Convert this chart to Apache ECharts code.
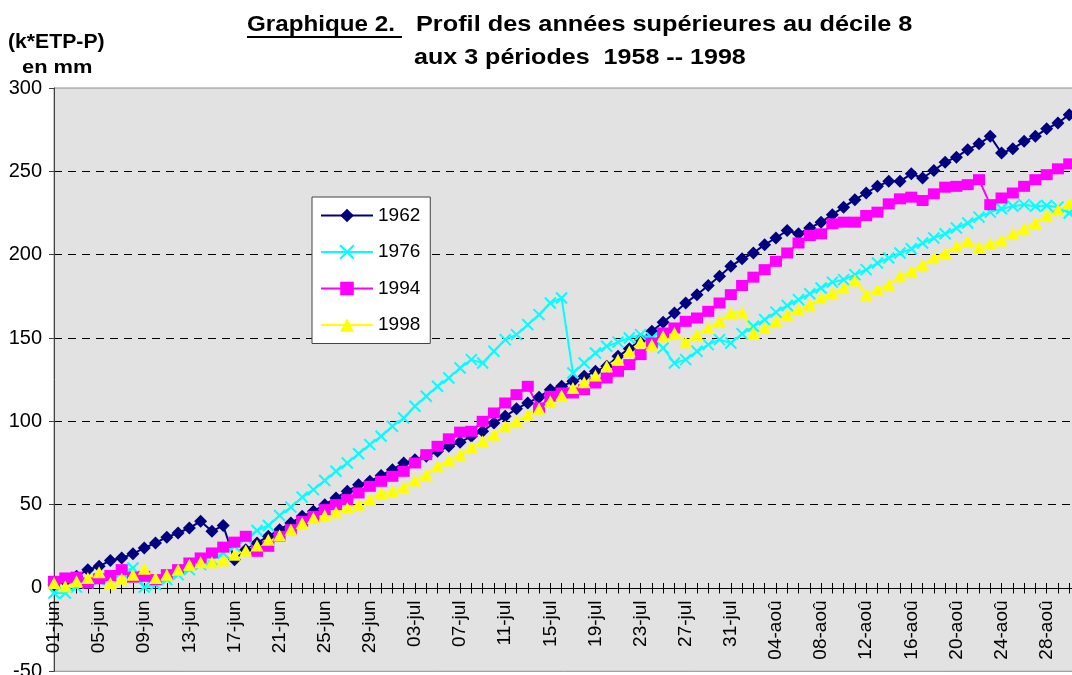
<!DOCTYPE html>
<html>
<head>
<meta charset="utf-8">
<script src="https://cdn.jsdelivr.net/npm/echarts@6/dist/echarts.min.js"></script>
<style>
html,body{margin:0;padding:0;background:#fff;}
#chart{width:1072px;height:675px;}
</style>
</head>
<body>
<div id="chart"></div>
<script>
// ---- data ----
const monthNames = ['jun', 'jul', 'aoû'];
const monthDays = [30, 31, 31];
const categories = [];
monthNames.forEach(function (m, k) {
  for (let d = 1; d <= monthDays[k]; d++) categories.push((d < 10 ? '0' : '') + d + '-' + m);
});
const yTicks = [-50, 0, 50, 100, 150, 200, 250, 300];
const seriesNames = ['1962', '1976', '1994', '1998'];

const y1962 = [2, 4, 7, 11, 13, 16.5, 18, 20.5, 24, 27, 30.5, 33, 36, 40, 34, 37.5, 17, 23, 27, 31,
  35, 39, 43, 46, 50, 54, 58, 62, 64, 67.5, 71, 75, 77, 79, 82, 85, 87.5, 91, 94, 99,
  103, 107.5, 111, 114.5, 119, 121, 124, 127, 130, 133, 139, 143.5, 149, 154, 159.5, 165, 171, 176, 181.5, 187,
  193, 197.5, 201, 206, 210, 214.5, 212.5, 216, 219.5, 224, 228.5, 233, 237, 241, 244, 244, 248.5, 246, 250.5, 255.5,
  258.5, 263, 266.5, 271, 261, 263.5, 268, 271, 275.5, 279, 284, 287];

const y1976 = [-3, -3, 0.5, 3, 5, 7, 9.5, 12, 0.5, 2, 5, 8, 11, 14, 17, 21, 25, 30, 34.5, 37.5,
  43.5, 48.5, 54.5, 59, 64.5, 70, 75, 80.5, 86, 91, 97, 102, 109, 115, 121, 126, 132, 137, 135, 142,
  149, 152, 158, 164, 171, 174, 129, 135, 141, 145, 147.5, 150, 152, 150, 144, 135, 137, 142, 146, 149,
  147, 152.5, 157, 161, 165.5, 169.5, 173, 176.5, 180, 183.5, 185, 188, 191, 195, 198, 201, 203.5, 207, 210, 212.5,
  216, 219, 222.5, 225.5, 227.5, 229, 230, 229, 229.5, 228.5, 225, 224];

const y1994 = [4, 6, 6.5, 3, 5.5, 7.5, 11, 6.5, 7, 5, 8, 11, 15, 18, 21, 24.5, 27.5, 31, 22, 25,
  31, 35, 40, 43, 47, 50, 53, 57, 61, 64, 67, 70, 75, 80, 85, 89.5, 93.5, 94, 100, 105,
  111, 116, 121, 108, 115, 117, 117, 119, 123, 126, 130, 134, 140, 147, 153, 156, 160, 162, 166, 171,
  176, 181.5, 186.5, 191, 196, 201, 207, 211.5, 212.5, 218.5, 219.5, 219.5, 223.5, 225.5, 230.5, 233.5, 234.5, 232.5, 236.5, 240.5,
  241, 242, 245, 230, 234, 237, 241, 245, 248, 251.5, 254.5, 257];

const y1998 = [3, 1, 4, 6, 9.5, 3, 5.5, 8, 11.5, 6, 8, 11, 14, 15.5, 15.5, 16.5, 20, 22.5, 25.5, 29,
  31.5, 35, 39, 42, 43.5, 45.5, 48, 50, 53, 57, 58, 60.5, 64.5, 68, 73, 76.5, 80, 84.5, 88, 92,
  97, 100, 104, 107.5, 112, 115.5, 120, 123.5, 127.5, 133, 137, 142, 147.5, 146, 151, 153, 147.5, 152, 156, 160,
  165, 165.5, 153, 156, 160, 164, 167, 170, 174, 177, 180, 184.5, 176, 179, 182, 187, 190, 194, 198, 201,
  205, 208, 204.5, 206.5, 208.5, 212.5, 215.5, 219, 223.5, 227, 230.5, 234];

// ---- chart ----
const FONT = '"Liberation Sans", Arial, sans-serif';
const chart = echarts.init(document.getElementById('chart'), null, {renderer: 'canvas'});
const crossPath = 'path://M0,0L10,10M10,0L0,10';

// plot box: 300 at y=88, -50 at y=671.3 => 0 at y=588.3
const PLOT_TOP = 88, PLOT_BOTTOM = 671.3;
const zeroY = PLOT_TOP + (PLOT_BOTTOM - PLOT_TOP) * 300 / 350;

const option = {
  animation: false,
  backgroundColor: '#ffffff',
  textStyle: {fontFamily: FONT},
  grid: [{
    left: 54, top: PLOT_TOP, right: -8.5, bottom: 675 - PLOT_BOTTOM,
    show: true, backgroundColor: '#E2E2E2', borderColor: '#8c8c8c', borderWidth: 1,
    containLabel: false, outerBoundsMode: 'none'
  }, {
    left: 54, top: zeroY, right: -8.5, height: 0.5,
    show: false, containLabel: false, outerBoundsMode: 'none'
  }],
  legend: {
    left: 312, top: 197, orient: 'vertical', z: 10,
    backgroundColor: '#ffffff', borderColor: '#444444', borderWidth: 1,
    padding: [9, 10, 9, 8],
    itemWidth: 52, itemHeight: 17, itemGap: 17.5,
    textStyle: {fontFamily: FONT, fontSize: 19, color: '#000', lineHeight: 19},
    data: seriesNames
  },
  xAxis: [{
    gridIndex: 0, type: 'category', data: categories, boundaryGap: false, show: false
  }, {
    gridIndex: 1, type: 'category', data: categories, boundaryGap: false, position: 'top',
    axisLine: {show: true, onZero: false, lineStyle: {color: '#000', width: 1}},
    axisTick: {show: true, interval: 0, length: 5, lineStyle: {color: '#000'}},
    axisLabel: {show: false},
    splitLine: {show: false}
  }, {
    gridIndex: 1, type: 'category', data: categories, boundaryGap: false, position: 'bottom',
    axisLine: {show: false, onZero: false},
    axisTick: {show: true, interval: 0, length: 5, lineStyle: {color: '#000'}},
    axisLabel: {interval: 3, rotate: 90, margin: 12, fontSize: 19, color: '#000', fontFamily: FONT},
    splitLine: {show: false}
  }],
  yAxis: [{
    gridIndex: 0, type: 'value', min: yTicks[0], max: yTicks[yTicks.length - 1], interval: 50,
    axisLine: {show: true, lineStyle: {color: '#404040', width: 1}},
    axisTick: {show: true, length: 5, lineStyle: {color: '#404040'}},
    axisLabel: {fontSize: 20, color: '#000', margin: 12, fontFamily: FONT},
    splitLine: {show: true, showMinLine: false, showMaxLine: false,
      lineStyle: {color: '#000', type: [8, 6], width: 1}}
  }, {
    gridIndex: 1, type: 'value', min: 0, max: 1, show: false
  }],
  series: [{
    name: seriesNames[0], type: 'line', data: y1962, xAxisIndex: 0, yAxisIndex: 0,
    symbol: 'diamond', symbolSize: [13, 13], showAllSymbol: true,
    lineStyle: {color: '#000080', width: 2},
    itemStyle: {color: '#000080'}
  }, {
    name: seriesNames[1], type: 'line', data: y1976, xAxisIndex: 0, yAxisIndex: 0,
    symbol: crossPath, symbolSize: [11, 11], showAllSymbol: true,
    lineStyle: {color: '#00FFFF', width: 2},
    itemStyle: {color: '#00FFFF', borderColor: '#00FFFF', borderWidth: 2}
  }, {
    name: seriesNames[2], type: 'line', data: y1994, xAxisIndex: 0, yAxisIndex: 0,
    symbol: 'rect', symbolSize: [12, 11], showAllSymbol: true,
    lineStyle: {color: '#FF00FF', width: 2},
    itemStyle: {color: '#FF00FF'}
  }, {
    name: seriesNames[3], type: 'line', data: y1998, xAxisIndex: 0, yAxisIndex: 0,
    symbol: 'triangle', symbolSize: [13, 12], showAllSymbol: true,
    lineStyle: {color: '#FFFF00', width: 2},
    itemStyle: {color: '#FFFF00'}
  }],
  graphic: [
    {type: 'text', x: 8, y: 42, scaleX: 1.06, style: {text: '(k*ETP-P)', font: 'bold 20px ' + FONT, fill: '#000', textAlign: 'left', textVerticalAlign: 'middle', verticalAlign: 'middle'}},
    {type: 'text', x: 22, y: 68, scaleX: 1.15, style: {text: 'en mm', font: 'bold 19px ' + FONT, fill: '#000', textAlign: 'left', textVerticalAlign: 'middle', verticalAlign: 'middle'}},
    {type: 'text', x: 247, y: 25, scaleX: 1.1, style: {text: 'Graphique 2.', font: 'bold 22px ' + FONT, fill: '#000', textAlign: 'left', textVerticalAlign: 'middle', verticalAlign: 'middle'}},
    {type: 'line', shape: {x1: 247, y1: 37, x2: 402, y2: 37}, style: {stroke: '#000', lineWidth: 2}},
    {type: 'text', x: 416, y: 25, scaleX: 1.15, style: {text: 'Profil des années supérieures au décile 8', font: 'bold 22px ' + FONT, fill: '#000', textAlign: 'left', textVerticalAlign: 'middle', verticalAlign: 'middle'}},
    {type: 'text', x: 414, y: 58, scaleX: 1.14, style: {text: 'aux 3 périodes  1958 -- 1998', font: 'bold 22px ' + FONT, fill: '#000', textAlign: 'left', textVerticalAlign: 'middle', verticalAlign: 'middle'}}
  ]
};
chart.setOption(option);
</script>
</body>
</html>
